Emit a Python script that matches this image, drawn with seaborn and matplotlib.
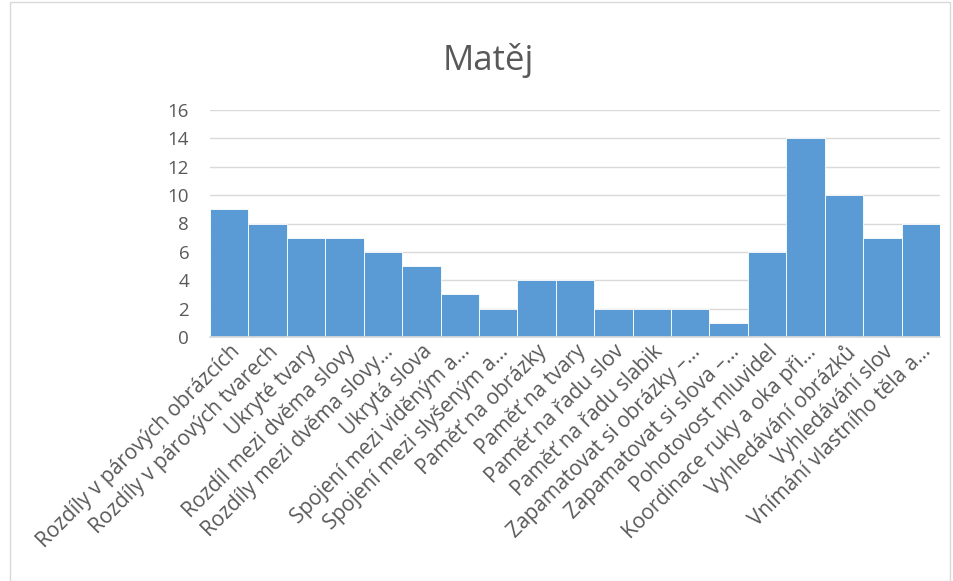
import matplotlib
matplotlib.use("Agg")
import matplotlib.pyplot as plt
import seaborn as sns
import pandas as pd
from matplotlib.patches import Rectangle

categories = [
    "Rozdíly v párových obrázcích",
    "Rozdíly v párových tvarech",
    "Ukryté tvary",
    "Rozdíl mezi dvěma slovy",
    "Rozdíly mezi dvěma slovy…",
    "Ukrytá slova",
    "Spojení mezi viděným a…",
    "Spojení mezi slyšeným a…",
    "Paměť na obrázky",
    "Paměť na tvary",
    "Paměť na řadu slov",
    "Paměť na řadu slabik",
    "Zapamatovat si obrázky –…",
    "Zapamatovat si slova –…",
    "Pohotovost mluvidel",
    "Koordinace ruky a oka při…",
    "Vyhledávání obrázků",
    "Vyhledávání slov",
    "Vnímání vlastního těla a…",
]
values = [9, 8, 7, 7, 6, 5, 3, 2, 4, 4, 2, 2, 2, 1, 6, 14, 10, 7, 8]
yticks = [0, 2, 4, 6, 8, 10, 12, 14, 16]
title = "Matěj"

sns.set_theme(style="white")
plt.rcParams['font.family'] = ['Open Sans', 'DejaVu Sans']

df = pd.DataFrame({"cat": categories, "val": values})

fig = plt.figure(figsize=(9.54, 5.81), dpi=100)
ax = fig.add_axes([210/954, 1-337/581, 730/954, 227/581])

sns.barplot(data=df, x="cat", y="val", color="#5B9BD5", width=1.0,
            saturation=1, edgecolor="white", linewidth=0.6, ax=ax, zorder=2)

ax.set_ylim(0, 16)
ax.set_xlim(-0.5, len(categories) - 0.5)
ax.set_yticks(yticks)
ax.set_yticklabels([str(t) for t in yticks], fontsize=13.5, color="#595959")
ax.yaxis.grid(True, color="#D9D9D9", linewidth=1, zorder=0)
ax.set_axisbelow(True)
for s in ["top", "right", "left"]:
    ax.spines[s].set_visible(False)
ax.spines["bottom"].set_color("#D9D9D9")
ax.tick_params(axis="y", length=0, pad=15)
ax.tick_params(axis="x", length=0, pad=3)
ax.set_xticks(range(len(categories)))
ax.set_xticklabels(categories, rotation=45, ha="right", rotation_mode="anchor",
                   fontsize=15, color="#595959")
ax.set_xlabel("")
ax.set_ylabel("")

fig.text(488/954, 1-60/581, title, ha="center", va="center", fontsize=25, color="#595959")

fig.patches.append(Rectangle((10/954, 0.5/581), 940/954, 1-2/581, transform=fig.transFigure,
                             fill=False, edgecolor="#D9D9D9", linewidth=1))

fig.savefig("out.png", dpi=100)
